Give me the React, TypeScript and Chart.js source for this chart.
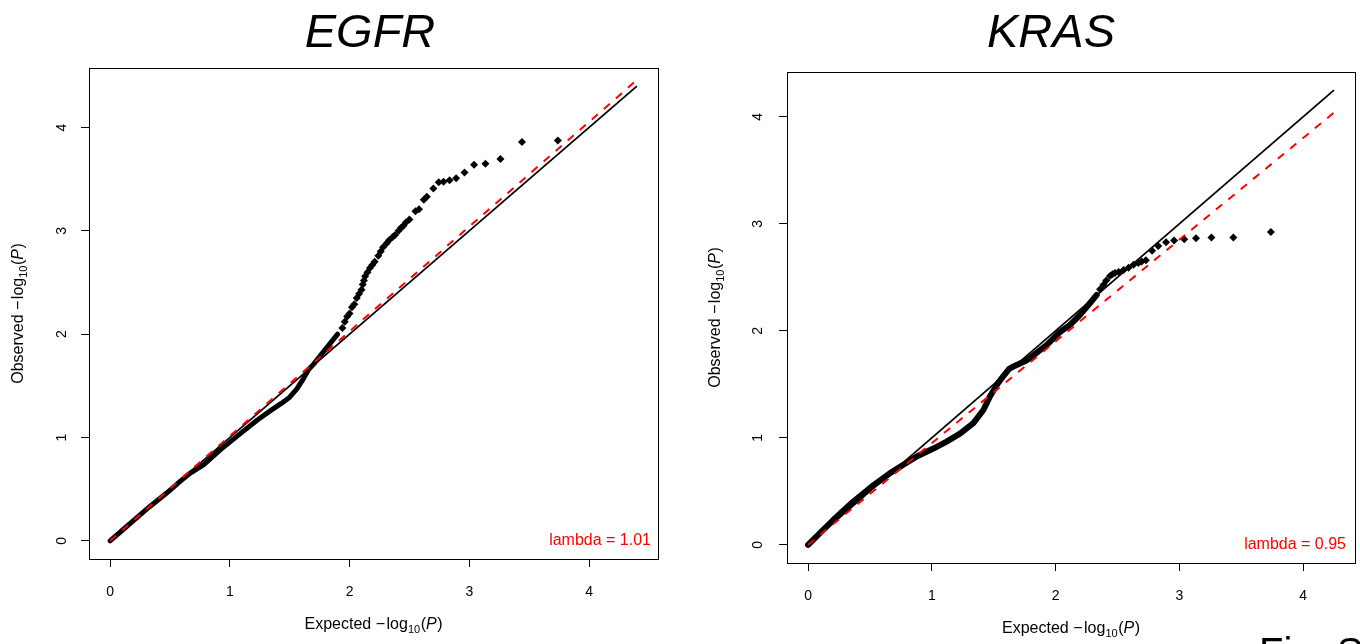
import React, { useEffect, useRef } from 'react';
import { Chart, registerables } from 'chart.js';

Chart.register(...registerables);

const FONT = '"Liberation Sans", Arial, Helvetica, sans-serif';

// ---------- data ----------
const tickValues = [0, 1, 2, 3, 4];

// EGFR: dense part of the QQ curve (points overlap into a thick band)
const egfrDenseX = [0, 0.1, 0.2, 0.33, 0.47, 0.58, 0.67, 0.78, 0.92, 1.09, 1.23, 1.34, 1.43, 1.5, 1.56, 1.615, 1.66, 1.7, 1.755, 1.81, 1.865, 1.9];
const egfrDenseY = [0, 0.1, 0.2, 0.33, 0.46, 0.57, 0.655, 0.735, 0.88, 1.04, 1.17, 1.26, 1.33, 1.39, 1.47, 1.57, 1.66, 1.71, 1.79, 1.87, 1.95, 2.0];
// EGFR: individual points in the tail
const egfrTailX = [1.94, 1.96, 1.98, 2.0, 2.02, 2.04, 2.06, 2.08, 2.1, 2.11, 2.12, 2.13, 2.15, 2.17, 2.19, 2.21, 2.24, 2.26, 2.28, 2.31, 2.33, 2.36, 2.38, 2.41, 2.43, 2.45, 2.47, 2.5, 2.55, 2.58, 2.62, 2.645, 2.7, 2.745, 2.785, 2.835, 2.89, 2.96, 3.04, 3.135, 3.26, 3.44, 3.74];
const egfrTailY = [2.06, 2.12, 2.17, 2.2, 2.26, 2.29, 2.35, 2.39, 2.43, 2.48, 2.52, 2.56, 2.6, 2.64, 2.67, 2.7, 2.76, 2.8, 2.84, 2.88, 2.91, 2.94, 2.96, 3.0, 3.03, 3.05, 3.08, 3.11, 3.19, 3.21, 3.3, 3.33, 3.41, 3.47, 3.475, 3.49, 3.51, 3.565, 3.64, 3.65, 3.695, 3.86, 3.875];
const egfrNullX = [0, 4.4];
const egfrNullY = [0, 4.4];
const egfrFitX = [0, 4.4];
const egfrFitY = [0, 4.46];
const egfrLambda = '1.01';

// KRAS
const krasDenseX = [0, 0.1, 0.205, 0.366, 0.515, 0.663, 0.77, 0.878, 1.013, 1.12, 1.228, 1.336, 1.417, 1.47, 1.525, 1.58, 1.625, 1.66, 1.76, 1.82, 1.93, 2.036, 2.117, 2.198, 2.279, 2.333];
const krasDenseY = [0, 0.115, 0.234, 0.405, 0.545, 0.67, 0.748, 0.825, 0.9, 0.965, 1.04, 1.137, 1.26, 1.386, 1.495, 1.58, 1.645, 1.667, 1.72, 1.77, 1.87, 1.99, 2.056, 2.15, 2.26, 2.336];
const krasTailX = [2.36, 2.387, 2.41, 2.44, 2.46, 2.48, 2.51, 2.55, 2.59, 2.63, 2.67, 2.696, 2.73, 2.78, 2.83, 2.893, 2.958, 3.04, 3.135, 3.26, 3.437, 3.74];
const krasTailY = [2.39, 2.43, 2.47, 2.514, 2.53, 2.54, 2.55, 2.57, 2.59, 2.617, 2.635, 2.648, 2.66, 2.748, 2.794, 2.829, 2.844, 2.857, 2.866, 2.872, 2.872, 2.925];
const krasNullX = [0, 4.25];
const krasNullY = [0, 4.25];
const krasFitX = [0, 4.25];
const krasFitY = [0, 4.04];
const krasLambda = '0.95';

const zip = (xs: number[], ys: number[]) => xs.map((x, i) => ({ x, y: ys[i] }));

// ---------- drawing helpers ----------
function drawLogLabel(ctx: CanvasRenderingContext2D, word: string, cx: number, cy: number, rotate: boolean) {
  const main = `16px ${FONT}`;
  const sub = `11px ${FONT}`;
  const ital = `italic 16px ${FONT}`;
  const segs = [
    { t: word, f: main, dy: 0, gap: 0 },
    { t: ' \u2212', f: main, dy: 0, gap: 1.5 },
    { t: 'log', f: main, dy: 0, gap: 0 },
    { t: '10', f: sub, dy: 4, gap: 0.5 },
    { t: '(', f: main, dy: 0, gap: 0 },
    { t: 'P', f: ital, dy: 0, gap: 0.5 },
    { t: ')', f: main, dy: 0, gap: 0 },
  ];
  let total = 0;
  const widths = segs.map((s) => {
    ctx.font = s.f;
    const w = ctx.measureText(s.t).width + s.gap;
    total += w;
    return w;
  });
  ctx.save();
  ctx.translate(cx, cy);
  if (rotate) ctx.rotate(-Math.PI / 2);
  ctx.textAlign = 'left';
  ctx.textBaseline = 'alphabetic';
  ctx.fillStyle = '#000';
  let x = -total / 2;
  segs.forEach((s, i) => {
    ctx.font = s.f;
    ctx.fillText(s.t, x, s.dy);
    x += widths[i];
  });
  ctx.restore();
}

const qqDecor = {
  id: 'qqDecor',
  afterDraw(chart: any, _args: any, opts: any) {
    const { ctx, chartArea: a, scales } = chart;
    ctx.save();
    // box
    ctx.strokeStyle = '#000';
    ctx.lineWidth = 1;
    const l = Math.round(a.left) + 0.5;
    const t = Math.round(a.top) + 0.5;
    const r = Math.round(a.right) + 0.5;
    const b = Math.round(a.bottom) + 0.5;
    ctx.strokeRect(l, t, r - l, b - t);

    // rotated y tick labels (R style)
    const ys = scales.y;
    ctx.font = `14px ${FONT}`;
    ctx.fillStyle = '#000';
    ctx.textAlign = 'center';
    ctx.textBaseline = 'middle';
    ys.ticks.forEach((tk: any, i: number) => {
      const py = ys.getPixelForTick(i);
      ctx.save();
      ctx.translate(a.left - opts.yLabelOffset, py);
      ctx.rotate(-Math.PI / 2);
      ctx.fillText(String(tk.label), 0, 0);
      ctx.restore();
    });

    // title
    ctx.font = `italic 47px ${FONT}`;
    ctx.textAlign = 'center';
    ctx.textBaseline = 'alphabetic';
    ctx.fillText(opts.title, opts.titleX, opts.titleY);

    // axis titles
    drawLogLabel(ctx, 'Expected', (a.left + a.right) / 2, opts.xTitleY, false);
    drawLogLabel(ctx, 'Observed', opts.yTitleX, (a.top + a.bottom) / 2, true);

    // lambda
    ctx.font = `16px ${FONT}`;
    ctx.fillStyle = '#ff0000';
    ctx.textAlign = 'right';
    ctx.textBaseline = 'middle';
    ctx.fillText(`lambda = ${opts.lambda}`, a.right - opts.lambdaRight, a.bottom - opts.lambdaUp);

    if (opts.figText) {
      ctx.font = `40px ${FONT}`;
      ctx.fillStyle = '#000';
      ctx.textAlign = 'left';
      ctx.textBaseline = 'alphabetic';
      ctx.fillText(opts.figText, opts.figX, opts.figY);
    }
    ctx.restore();
  },
};

type PanelCfg = {
  denseX: number[]; denseY: number[]; tailX: number[]; tailY: number[];
  nullX: number[]; nullY: number[]; fitX: number[]; fitY: number[];
  min: number; max: number;
  padTop: number; padRight: number; yWidth: number; xHeight: number;
  denseWidth: number;
  decor: any;
};

function QQPanel({ cfg }: { cfg: PanelCfg }) {
  const ref = useRef<HTMLCanvasElement | null>(null);
  useEffect(() => {
    if (!ref.current) return;
    const axisCommon = {
      type: 'linear' as const,
      min: cfg.min,
      max: cfg.max,
      afterBuildTicks: (s: any) => {
        s.ticks = tickValues.map((v) => ({ value: v }));
      },
      grid: { display: true, drawOnChartArea: false, drawTicks: true, tickLength: 8, color: '#000', lineWidth: 1 },
      border: { display: false },
    };
    const chart = new Chart(ref.current, {
      type: 'scatter',
      data: {
        datasets: [
          { label: 'fit', data: zip(cfg.fitX, cfg.fitY), showLine: true, borderColor: '#ff0000', borderWidth: 2, borderDash: [8, 8], pointRadius: 0, fill: false },
          { label: 'null', data: zip(cfg.nullX, cfg.nullY), showLine: true, borderColor: '#000', borderWidth: 1.8, pointRadius: 0, fill: false },
          { label: 'dense', data: zip(cfg.denseX, cfg.denseY), showLine: true, borderColor: '#000', borderWidth: cfg.denseWidth, borderJoinStyle: 'round', borderCapStyle: 'round', pointRadius: 0, fill: false },
          { label: 'tail', data: zip(cfg.tailX, cfg.tailY), showLine: false, pointStyle: 'rectRot', pointRadius: 4, backgroundColor: '#000', borderColor: '#000', borderWidth: 0 },
        ] as any,
      },
      options: {
        animation: false,
        responsive: false,
        maintainAspectRatio: false,
        layout: { padding: { left: 0, top: cfg.padTop, right: cfg.padRight, bottom: 0 } },
        plugins: {
          legend: { display: false },
          tooltip: { enabled: false },
          title: { display: false },
          qqDecor: cfg.decor,
        } as any,
        scales: {
          x: {
            ...axisCommon,
            position: 'bottom',
            afterFit: (s: any) => { s.height = cfg.xHeight; },
            ticks: { font: { family: FONT, size: 14 }, color: '#000', padding: 17, maxRotation: 0, minRotation: 0, autoSkip: false },
          },
          y: {
            ...axisCommon,
            position: 'left',
            afterFit: (s: any) => { s.width = cfg.yWidth; },
            ticks: { display: false },
          },
        } as any,
      },
      plugins: [qqDecor],
    });
    return () => chart.destroy();
  }, []);
  return <canvas ref={ref} width={680} height={644} style={{ display: 'block', width: 680, height: 644 }} />;
}

const egfrCfg: PanelCfg = {
  denseX: egfrDenseX, denseY: egfrDenseY, tailX: egfrTailX, tailY: egfrTailY,
  nullX: egfrNullX, nullY: egfrNullY, fitX: egfrFitX, fitY: egfrFitY,
  min: -0.176, max: 4.576,
  padTop: 68, padRight: 22, yWidth: 89, xHeight: 85,
  denseWidth: 5,
  decor: { title: 'EGFR', titleX: 370, titleY: 47, xTitleY: 629, yTitleX: 23, yLabelOffset: 27, lambda: egfrLambda, lambdaRight: 7, lambdaUp: 18 },
};

const krasCfg: PanelCfg = {
  denseX: krasDenseX, denseY: krasDenseY, tailX: krasTailX, tailY: krasTailY,
  nullX: krasNullX, nullY: krasNullY, fitX: krasFitX, fitY: krasFitY,
  min: -0.17, max: 4.42,
  padTop: 72, padRight: 5, yWidth: 107, xHeight: 81,
  denseWidth: 6,
  decor: { title: 'KRAS', titleX: 371, titleY: 47, xTitleY: 633, yTitleX: 40, yLabelOffset: 29, lambda: krasLambda, lambdaRight: 9, lambdaUp: 18, figText: 'Fig. S1', figX: 579, figY: 666 },
};

export default function App() {
  return (
    <div style={{ position: 'absolute', left: 0, top: 0, width: 1360, height: 644, display: 'flex', background: '#fff', overflow: 'hidden' }}>
      <QQPanel cfg={egfrCfg} />
      <QQPanel cfg={krasCfg} />
    </div>
  );
}
